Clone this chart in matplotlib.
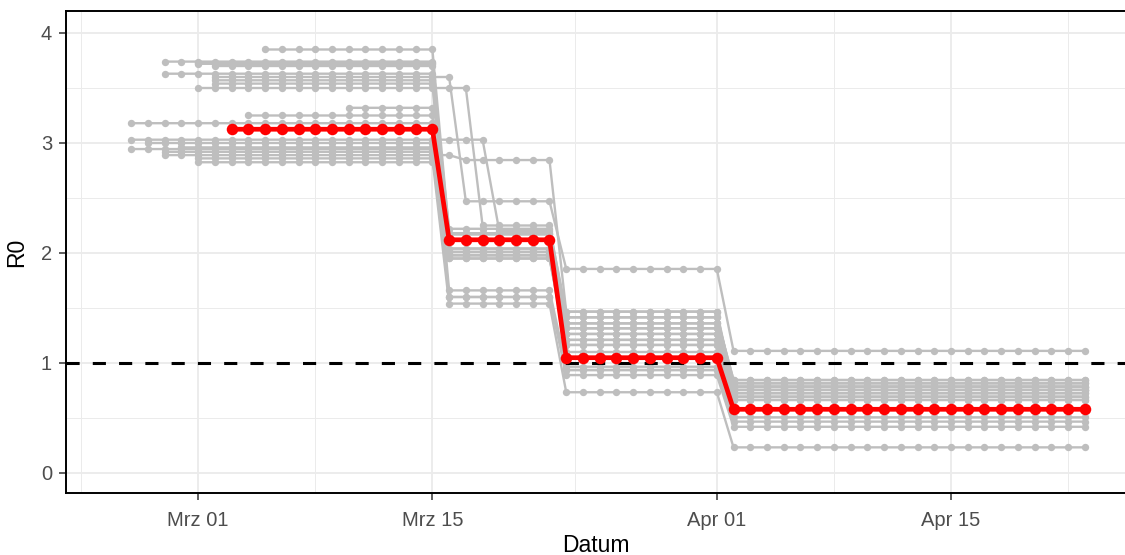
import numpy as np
import pandas as pd
import matplotlib
matplotlib.use('Agg')
import matplotlib.pyplot as plt
import matplotlib.dates as mdates

plt.rcParams['font.family'] = ['Liberation Sans', 'DejaVu Sans']

# ensemble members (grey): first day, last day of phase 1, R0 per phase
member_start = ['2020-03-05', '2020-02-28', '2020-03-01', '2020-03-01', '2020-03-02',
                '2020-02-28', '2020-03-02', '2020-03-02', '2020-03-02', '2020-03-01',
                '2020-03-10', '2020-03-04', '2020-02-26', '2020-02-26', '2020-02-27',
                '2020-02-29', '2020-02-26', '2020-02-28', '2020-02-28', '2020-03-01',
                '2020-03-01']
member_end1 = ['2020-03-15', '2020-03-15', '2020-03-15', '2020-03-15', '2020-03-15',
               '2020-03-15', '2020-03-16', '2020-03-15', '2020-03-15', '2020-03-17',
               '2020-03-15', '2020-03-15', '2020-03-15', '2020-03-18', '2020-03-15',
               '2020-03-15', '2020-03-15', '2020-03-15', '2020-03-16', '2020-03-15',
               '2020-03-15']
r0_phase1 = [3.85, 3.74, 3.73, 3.72, 3.70, 3.63, 3.60, 3.57, 3.54, 3.50, 3.32,
             3.25, 3.18, 3.03, 3.00, 2.96, 2.945, 2.92, 2.89, 2.86, 2.825]
r0_phase2 = [2.18, 2.04, 1.98, 2.01, 1.95, 2.22, 2.47, 2.04, 1.95, 2.25, 1.66,
             2.01, 1.60, 2.20, 2.17, 1.98, 1.98, 1.60, 2.845, 1.54, 2.17]
r0_phase3 = [1.415, 1.36, 1.264, 1.315, 1.21, 1.467, 1.855, 1.36, 1.164, 1.415, 0.966,
             1.264, 0.936, 1.315, 1.21, 1.164, 1.10, 0.89, 1.467, 0.734, 0.936]
r0_phase4 = [0.845, 0.815, 0.785, 0.785, 0.755, 0.725, 1.11, 0.815, 0.694, 0.845, 0.506,
             0.755, 0.467, 0.725, 0.694, 0.664, 0.664, 0.42, 0.785, 0.233, 0.755]

# shared phase ends
end_phase2 = '2020-03-22'
end_phase3 = '2020-04-01'
end_last = '2020-04-23'

# highlighted (red) estimate
best_start = '2020-03-03'
best_end1 = '2020-03-15'
best_r0 = [3.125, 2.12, 1.048, 0.579]

xtick_dates = ['2020-03-01', '2020-03-15', '2020-04-01', '2020-04-15']
xtick_labels = ['Mrz 01', 'Mrz 15', 'Apr 01', 'Apr 15']
xminor_dates = ['2020-02-23', '2020-03-08', '2020-03-23 12:00', '2020-04-08', '2020-04-22']
ytick_vals = [0, 1, 2, 3, 4]


def expand(start, end1, vals):
    bounds = [pd.Timestamp(b) for b in (end1, end_phase2, end_phase3, end_last)]
    lo = pd.Timestamp(start)
    d, v = [], []
    for hi, val in zip(bounds, vals):
        days = pd.date_range(lo, hi, freq='D')
        d += list(days)
        v += [val] * len(days)
        lo = hi + pd.Timedelta(days=1)
    return d, v


fig = plt.figure(figsize=(11.25, 5.55), dpi=100)
ax = fig.add_axes([66 / 1125, 62 / 555, 1 - 66 / 1125, 482 / 555])

for i in range(len(member_start)):
    d, v = expand(member_start[i], member_end1[i],
                  [r0_phase1[i], r0_phase2[i], r0_phase3[i], r0_phase4[i]])
    ax.plot(d, v, color='#BEBEBE', lw=1.7, marker='o', ms=5.3, mew=0, zorder=2)

ax.axhline(1, color='black', lw=2.2, ls=(0, (4.3, 4.3)), zorder=3)

d, v = expand(best_start, best_end1, best_r0)
ax.plot(d, v, color='#FF0000', lw=3.4, marker='o', ms=8.3, mew=0, zorder=4)

ref = mdates.date2num(pd.Timestamp('2020-03-01'))
ax.set_xlim(ref - 7.9, ref + 55.4)
ax.set_ylim(-0.182, 4.2)

ax.set_xticks([mdates.date2num(pd.Timestamp(t)) for t in xtick_dates])
ax.set_xticklabels(xtick_labels)
ax.set_xticks([mdates.date2num(pd.Timestamp(t)) for t in xminor_dates], minor=True)
ax.set_yticks(ytick_vals)
ax.set_yticks([0.5, 1.5, 2.5, 3.5], minor=True)

ax.grid(True, which='major', color='#EBEBEB', lw=1.3, zorder=0)
ax.grid(True, which='minor', color='#EBEBEB', lw=0.7, zorder=0)
ax.set_axisbelow(True)

for s in ['left', 'bottom', 'top']:
    ax.spines[s].set_color('black')
    ax.spines[s].set_linewidth(1.4)
ax.spines['right'].set_visible(False)

ax.tick_params(which='major', length=5, width=1.1, color='#333333',
               labelsize=14.5, labelcolor='#4D4D4D')
ax.tick_params(axis='x', which='major', pad=8)
ax.tick_params(axis='y', which='major', pad=5)
ax.tick_params(which='minor', length=0)

ax.set_xlabel('Datum', fontsize=16.5, color='black', labelpad=3)
ax.set_ylabel('R0', fontsize=16.5, color='black', labelpad=9)

fig.savefig('out.png', dpi=100)
